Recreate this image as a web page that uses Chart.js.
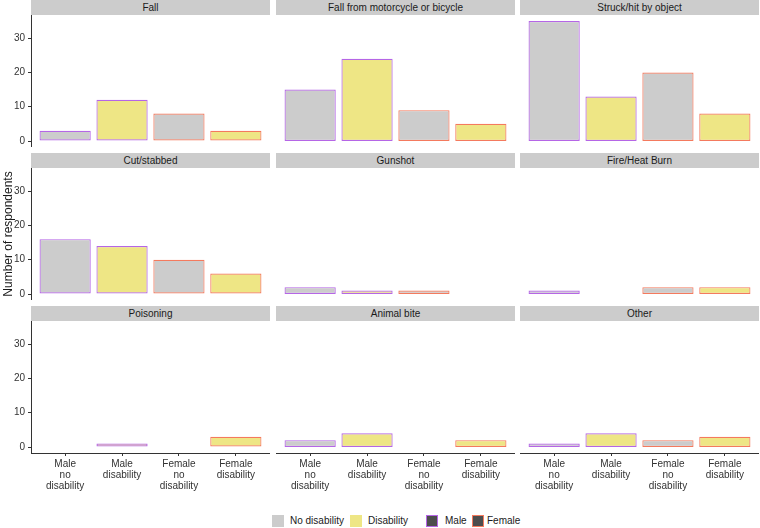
<!DOCTYPE html>
<html>
<head>
<meta charset="utf-8">
<script src="https://cdn.jsdelivr.net/npm/chart.js@4"></script>
<style>
  body { margin: 0; width: 760px; height: 528px; position: relative; overflow: hidden; background: #fff;
         font-family: "Liberation Sans", Arial, sans-serif; }
  canvas { position: absolute; }
  .strip { position: absolute; height: 15px; line-height: 15px; background: #cccccc; text-align: center;
           font-size: 10px; color: #1a1a1a; }
  .key { position: absolute; width: 12px; height: 12px; box-sizing: border-box; top: 515px; }
  .keytxt { position: absolute; top: 515px; font-size: 10px; line-height: 12px; color: #1a1a1a; }
</style>
</head>
<body>
<script>
// facet titles and x categories
const panels = ["Fall", "Fall from motorcycle or bicycle", "Struck/hit by object",
  "Cut/stabbed", "Gunshot", "Fire/Heat Burn",
  "Poisoning", "Animal bite", "Other"];
const groups = [["Male", "no", "disability"], ["Male", "disability"], ["Female", "no", "disability"], ["Female", "disability"]];

// respondents per group (male no dis, male dis, female no dis, female dis)
const fall = [3, 12, 8, 3];
const fallMotorcycle = [15, 24, 9, 5];
const struck = [35, 13, 20, 8];
const cutStabbed = [16, 14, 10, 6];
const gunshot = [2, 1, 1, 0];
const fireBurn = [1, 0, 2, 2];
const poisoning = [0, 1, 0, 3];
const animalBite = [2, 4, 0, 2];
const other = [1, 4, 2, 3];
const seriesList = [fall, fallMotorcycle, struck, cutStabbed, gunshot, fireBurn, poisoning, animalBite, other];

const yTicks = [0, 10, 20, 30];

const grey = "#cccccc", yellow = "#eee685", purple = "#b566e6", red = "#f47a5e";
const fills = [grey, yellow, grey, yellow];
const borders = [purple, purple, red, red];

const colLeft = [31, 276, 520];
const stripTop = [0, 153, 306];
const panelW = 239, plotH = 132, axisW = 31, axisH = 45;
const font = "'Liberation Sans', Arial, sans-serif";

panels.forEach((name, i) => {
  const row = Math.floor(i / 3), col = i % 3;
  const showY = col === 0, showX = row === 2;

  const strip = document.createElement("div");
  strip.className = "strip";
  strip.style.left = colLeft[col] + "px";
  strip.style.top = stripTop[row] + "px";
  strip.style.width = panelW + "px";
  strip.textContent = name;
  document.body.appendChild(strip);

  const canvas = document.createElement("canvas");
  const w = panelW + (showY ? axisW : 0);
  const h = plotH + (showX ? axisH : 0);
  canvas.width = w; canvas.height = h;
  canvas.style.width = w + "px"; canvas.style.height = h + "px";
  canvas.style.left = (colLeft[col] - (showY ? axisW : 0)) + "px";
  canvas.style.top = (stripTop[row] + 15) + "px";
  document.body.appendChild(canvas);

  new Chart(canvas.getContext("2d"), {
    type: "bar",
    data: {
      datasets: [{
        data: seriesList[i].map((v, k) => ({ x: k, y: v })),
        backgroundColor: fills,
        borderColor: borders,
        borderWidth: 1.2,
        borderSkipped: false,
        barPercentage: 0.9,
        categoryPercentage: 1.0,
      }],
    },
    options: {
      responsive: false,
      maintainAspectRatio: false,
      animation: false,
      layout: { padding: 0 },
      plugins: { legend: { display: false }, tooltip: { enabled: false } },
      scales: {
        x: {
          type: "linear",
          min: -0.6,
          max: 3.6,
          offset: false,
          display: showX,
          grid: { offset: false, drawOnChartArea: false, drawTicks: true, tickLength: 3, color: "#333" },
          border: { display: true, color: "#333", width: 1 },
          afterBuildTicks: (axis) => { axis.ticks = groups.map((g, k) => ({ value: k })); },
          afterFit: (axis) => {
            if (!showX) return;
            axis.height = axisH; axis.paddingLeft = 0; axis.paddingRight = 0;
          },
          ticks: {
            autoSkip: false, maxRotation: 0, minRotation: 0, padding: 3, color: "#333",
            font: { size: 10, lineHeight: 1.07, family: font },
            callback: (v) => groups[v],
          },
        },
        y: {
          min: -1.75,
          max: 36.75,
          display: showY,
          grid: { drawOnChartArea: false, drawTicks: true, tickLength: 3, color: "#333" },
          border: { display: true, color: "#333", width: 1 },
          afterBuildTicks: (axis) => { axis.ticks = yTicks.map((v) => ({ value: v })); },
          afterFit: (axis) => {
            if (!showY) return;
            axis.width = axisW; axis.paddingTop = 0; axis.paddingBottom = 0;
          },
          ticks: {
            padding: 3, color: "#333",
            font: { size: 10, family: font },
          },
          title: {
            display: i === 3,
            text: "Number of respondents",
            color: "#1a1a1a",
            padding: { top: 1, bottom: 0 },
            font: { size: 12, family: font },
          },
        },
      },
    },
  });
});

// legend
const legendItems = [
  { label: "No disability", fill: grey, border: grey, x: 272, tx: 290 },
  { label: "Disability", fill: yellow, border: yellow, x: 350, tx: 368 },
  { label: "Male", fill: "#4d4d4d", border: purple, x: 426, tx: 445 },
  { label: "Female", fill: "#4d4d4d", border: red, x: 472, tx: 487 },
];
legendItems.forEach((item) => {
  const sq = document.createElement("div");
  sq.className = "key";
  sq.style.left = item.x + "px";
  sq.style.background = item.fill;
  sq.style.border = "1.5px solid " + item.border;
  document.body.appendChild(sq);
  const t = document.createElement("div");
  t.className = "keytxt";
  t.style.left = item.tx + "px";
  t.textContent = item.label;
  document.body.appendChild(t);
});
</script>
</body>
</html>
